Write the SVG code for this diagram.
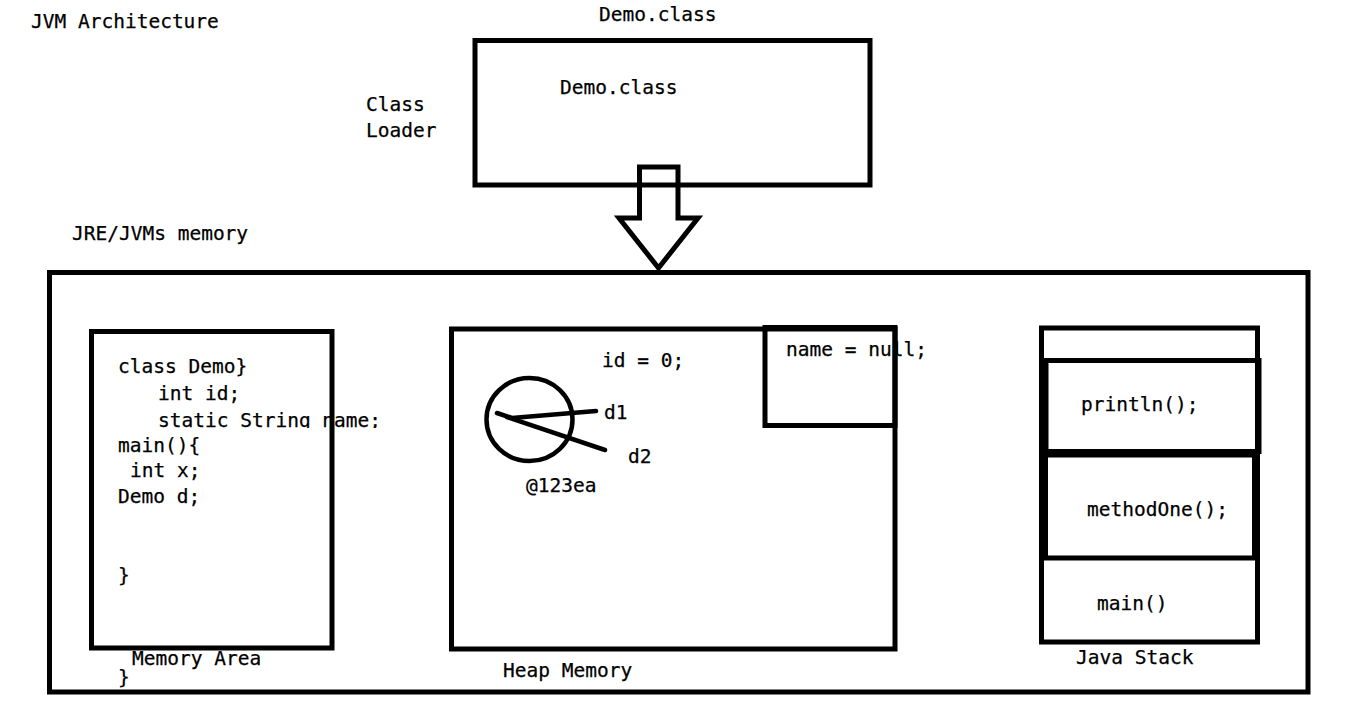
<svg xmlns="http://www.w3.org/2000/svg" width="1355" height="716" viewBox="0 0 1355 716">
<style>
text{font-family:"DejaVu Sans Mono","Liberation Mono",monospace;font-size:19.5px;fill:#000;stroke:#000;stroke-width:0.25}
.box{fill:none;stroke:#000;stroke-width:5}
.ln{fill:none;stroke:#000;stroke-width:4.5;stroke-linecap:round;stroke-linejoin:round}
</style>
<defs>
<clipPath id="codeclip"><rect x="0" y="0" width="1355" height="428"/></clipPath>
</defs>
<rect width="1355" height="716" fill="#fff"/>
<g id="title"><text x="31" y="28">JVM Architecture</text></g>
<g id="classloader">
<text x="599" y="21">Demo.class</text>
<rect class="box" x="475" y="40.5" width="395" height="144.5"/>
<text x="560" y="94">Demo.class</text>
<text x="366" y="111">Class</text>
<text x="366" y="137">Loader</text>
</g>
<g id="connectors">
<polygon class="box" points="639.5,167 678,167 678,218 698,218 658.5,268 619,218 639.5,218"/>
</g>
<g id="jvm-memory">
<text x="72" y="240">JRE/JVMs memory</text>
<rect class="box" x="49.5" y="272.5" width="1258.5" height="419.5"/>
</g>
<g id="memory-area">
<text x="118" y="373">class Demo}</text>
<text x="158" y="400">int id;</text>
<text x="158" y="427" clip-path="url(#codeclip)">static String name;</text>
<text x="118" y="452">main(){</text>
<text x="130" y="477">int x;</text>
<text x="118" y="503">Demo d;</text>
<text x="118" y="582">}</text>
<rect class="box" x="91.5" y="331.5" width="240.5" height="316.5"/>
<text x="132" y="665">Memory Area</text>
<text x="118" y="684">}</text>
</g>
<g id="heap">
<rect class="box" x="451.5" y="329" width="443.5" height="320"/>
<text x="602" y="367">id = 0;</text>
<text x="786" y="356">name = null;</text>
<rect class="box" x="765" y="327.5" width="130" height="98"/>
<ellipse class="ln" cx="529.5" cy="419.5" rx="43" ry="41.5"/>
<polyline class="ln" points="497,413 512,418 596,411"/>
<line class="ln" x1="507" y1="417" x2="605" y2="450"/>
<text x="604" y="419">d1</text>
<text x="628" y="463">d2</text>
<text x="526" y="492">@123ea</text>
<text x="503" y="677">Heap Memory</text>
</g>
<g id="java-stack">
<rect class="box" x="1041.5" y="328" width="216" height="314"/>
<rect class="box" x="1046" y="360.5" width="213" height="91" stroke-width="5.5"/>
<rect class="box" x="1045.5" y="455" width="209" height="103" stroke-width="6"/>
<text x="1081" y="411">println();</text>
<text x="1087" y="516">methodOne();</text>
<text x="1097" y="610">main()</text>
<text x="1076" y="664">Java Stack</text>
</g>
</svg>
